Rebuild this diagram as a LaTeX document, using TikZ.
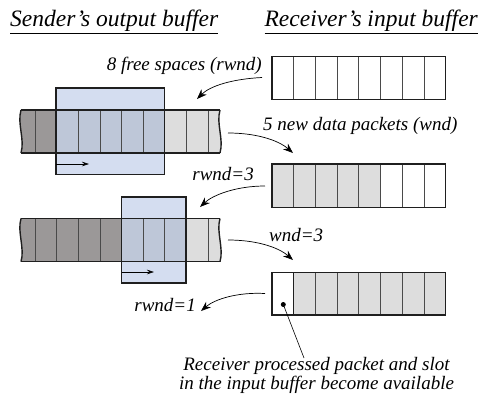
\documentclass[tikz,border=0pt]{standalone}
\usepackage{fontspec}
\setmainfont{Liberation Serif}
\usetikzlibrary{arrows.meta}
\definecolor{darkcell}{HTML}{9B9898}
\definecolor{lightcell}{HTML}{DDDDDD}
\definecolor{winfill}{HTML}{D4DDF0}
\definecolor{wincell}{HTML}{BEC7D8}
\definecolor{divline}{HTML}{4A4A4A}
\tikzset{
 outline/.style={draw=black!88,line width=1.4pt},
 divider/.style={draw=divline,line width=0.7pt},
 curvearrow/.style={draw=black,line width=0.7pt,-{Stealth[length=10pt,width=7.5pt]}},
 smallarrow/.style={draw=black,line width=0.6pt,-{Stealth[length=7pt,width=4.5pt]}},
 lbl/.style={font=\fontsize{19}{17}\selectfont\itshape,inner sep=0pt},
 title/.style={font=\fontsize{23.5}{28}\selectfont\itshape,inner sep=0pt},
}
\begin{document}
\begin{tikzpicture}[x=1pt,y=-1pt]
\useasboundingbox (0,0) rectangle (480,405);

% titles
\node[title,anchor=base west] (tsend) at (10,26.5) {\underline{Sender's output buffer}};
\node[title,anchor=base east] (trecv) at (478,26.5) {\underline{Receiver's input buffer}};

% ---------- receiver buffers ----------
% buffer 1 (empty)
\draw[divider] \foreach \i in {1,...,7} {(272+21.7*\i,56.5) -- (272+21.7*\i,99.3)};
\draw[outline] (272,56.5) rectangle (445.6,99.3);
% buffer 2 (5 filled)
\fill[lightcell] (272,164) rectangle (380.5,207.7);
\draw[divider] \foreach \i in {1,...,7} {(272+21.7*\i,164) -- (272+21.7*\i,207.7)};
\draw[outline] (272,164) rectangle (445.6,207.7);
% buffer 3 (first slot free)
\fill[lightcell] (293.7,272.3) rectangle (445.6,315);
\draw[divider] \foreach \i in {2,...,7} {(272+21.7*\i,272.3) -- (272+21.7*\i,315)};
\draw[outline] (293.7,272.3) -- (293.7,315);
\draw[outline] (272,272.3) rectangle (445.6,315);

% ---------- sender buffer 1 ----------
\fill[darkcell] (21,110) .. controls (17,124) and (25,139) .. (21,153) -- (56,153) -- (56,110) -- cycle;
\fill[lightcell] (164.5,110) -- (220,110) .. controls (216,124) and (224,139) .. (220,153) -- (164.5,153) -- cycle;
\fill[winfill] (56,88) rectangle (164.5,174.5);
\fill[wincell] (56,110) rectangle (164.5,153);
\draw[divider] \foreach \x in {35,56,78,100,121.5,143,164.5,186,208} {(\x,110) -- (\x,153)};
\draw[outline] (21,110) .. controls (17,124) and (25,139) .. (21,153);
\draw[outline] (220,110) .. controls (216,124) and (224,139) .. (220,153);
\draw[outline] (21,110) -- (220,110) (21,153) -- (220,153);
\draw[outline] (56,88) rectangle (164.5,174.5);
\coordinate (w1a) at (56,164);
\coordinate (w1b) at (89,164);
\draw[smallarrow] (w1a) -- (w1b);

% ---------- sender buffer 2 ----------
\fill[darkcell] (21,218.5) .. controls (17,232) and (25,248) .. (21,261.7) -- (121.5,261.7) -- (121.5,218.5) -- cycle;
\fill[lightcell] (186,218.5) -- (220,218.5) .. controls (216,232) and (224,248) .. (220,261.7) -- (186,261.7) -- cycle;
\fill[winfill] (121.5,197) rectangle (186,283);
\fill[wincell] (121.5,218.5) rectangle (186,261.7);
\draw[divider] \foreach \x in {35,56,78,100,121.5,143,164.5,186,208} {(\x,218.5) -- (\x,261.7)};
\draw[outline] (21,218.5) .. controls (17,232) and (25,248) .. (21,261.7);
\draw[outline] (220,218.5) .. controls (216,232) and (224,248) .. (220,261.7);
\draw[outline] (21,218.5) -- (220,218.5) (21,261.7) -- (220,261.7);
\draw[outline] (121.5,197) rectangle (186,283);
\coordinate (w2a) at (121.5,272);
\coordinate (w2b) at (154,272);
\draw[smallarrow] (w2a) -- (w2b);

% ---------- labels ----------
\node[lbl,anchor=base east] (l1) at (262,70) {8 free spaces (rwnd)};
\node[lbl,anchor=base west] (l2) at (263,130) {5 new data packets (wnd)};
\node[lbl,anchor=base east] (l3) at (254,180) {rwnd=3};
\node[lbl,anchor=base west] (l4) at (269,241.5) {wnd=3};
\node[lbl,anchor=base east] (l5) at (196,311.5) {rwnd=1};
\node[lbl,align=center,anchor=base] (l6) at (316.5,389) {Receiver processed packet and slot\\in the input buffer become available};

% ---------- connectors ----------
\coordinate (a1s) at (262,77.5);
\coordinate (a1e) at (197,99);
\draw[curvearrow] (a1s) .. controls (232,79) and (210,86) .. (a1e);
\coordinate (a2s) at (228,133);
\coordinate (a2e) at (293,153);
\draw[curvearrow] (a2s) .. controls (256,133) and (278,140) .. (a2e);
\coordinate (a3s) at (265,186);
\coordinate (a3e) at (200,207);
\draw[curvearrow] (a3s) .. controls (236,186) and (213,195) .. (a3e);
\coordinate (a4s) at (228,240);
\coordinate (a4e) at (293,260);
\draw[curvearrow] (a4s) .. controls (256,240) and (278,247) .. (a4e);
\coordinate (a5s) at (265,293.5);
\coordinate (a5e) at (201,311);
\draw[curvearrow] (a5s) .. controls (238,292) and (215,299) .. (a5e);

% dot and pointer
\node[circle,fill=black,inner sep=0pt,minimum size=5pt] (dot) at (283.3,304.5) {};
\coordinate (pe) at (304,358);
\draw[line width=0.6pt] (dot.center) -- (pe);
\end{tikzpicture}
\end{document}
